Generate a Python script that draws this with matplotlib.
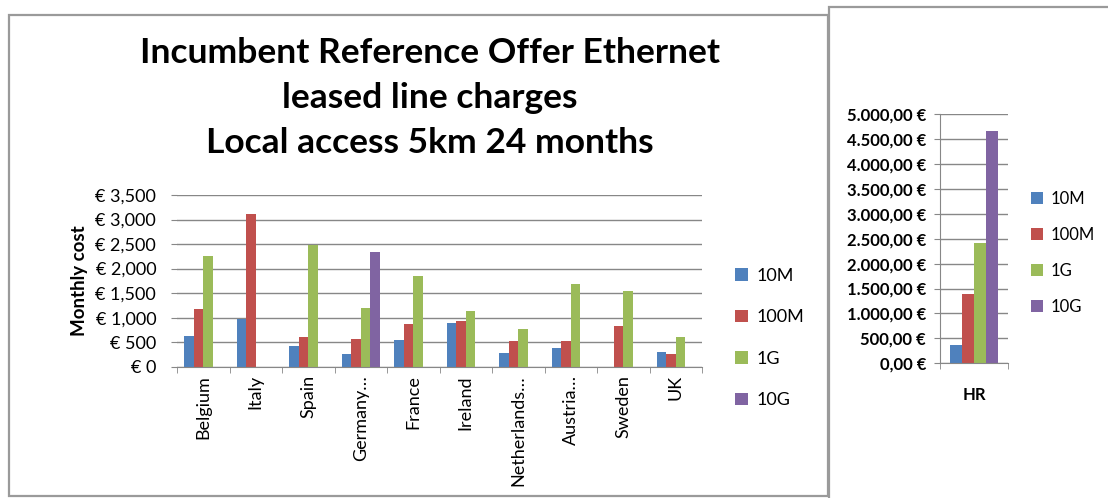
import numpy as np
import matplotlib
matplotlib.use('Agg')
import matplotlib.pyplot as plt
from matplotlib.patches import Rectangle
from matplotlib.ticker import FuncFormatter

plt.rcParams['font.family'] = ['Lato', 'DejaVu Sans']

# left chart data (EUR / month)
countries = ['Belgium', 'Italy', 'Spain', 'Germany\u2026', 'France', 'Ireland',
             'Netherlands\u2026', 'Austria\u2026', 'Sweden', 'UK']
v10m = [620, 965, 430, 265, 550, 895, 280, 385, np.nan, 300]
v100m = [1175, 3115, 600, 555, 870, 935, 530, 530, 835, 265]
v1g = [2265, np.nan, 2485, 1195, 1855, 1130, 770, 1680, 1535, 600]
v10g = [np.nan, np.nan, np.nan, 2345, np.nan, np.nan, np.nan, np.nan, np.nan, np.nan]

# right chart data (HR)
hr_cat = ['HR']
hr_10m = [365]
hr_100m = [1390]
hr_1g = [2420]
hr_10g = [4660]

series = ['10M', '100M', '1G', '10G']
colors = ['#4F81BD', '#C0504D', '#9BBB59', '#8064A2']
grid_c = '#878787'

W, H = 1108, 498
fig = plt.figure(figsize=(W / 100, H / 100), dpi=100)


def px(x0, y0, x1, y1):
    # pixel box (top-left origin) -> figure fraction rect
    return [x0 / W, 1 - y1 / H, (x1 - x0) / W, (y1 - y0) / H]


# panel borders
fig.patches.append(Rectangle((9 / W, 1 - 496 / H), (828 - 9) / W, (496 - 15) / H,
                             transform=fig.transFigure, fill=False,
                             edgecolor='#9a9a9a', lw=1.6))
fig.patches.append(Rectangle((828.5 / W, 1 - 520 / H), 400 / W, (520 - 7) / H,
                             transform=fig.transFigure, fill=False,
                             edgecolor='#9a9a9a', lw=1.6, clip_on=False))


def style_axes(ax, ymax, step, fmt, yfs, bold, pad):
    ax.set_ylim(0, ymax)
    ax.set_yticks(np.arange(0, ymax + 1, step))
    ax.yaxis.set_major_formatter(FuncFormatter(fmt))
    ax.grid(axis='y', color=grid_c, lw=1)
    ax.set_axisbelow(True)
    for s in ['top', 'right']:
        ax.spines[s].set_visible(False)
    ax.spines['bottom'].set_color(grid_c)
    ax.spines['left'].set_color(grid_c)
    ax.tick_params(axis='y', length=4, color=grid_c, labelsize=yfs, pad=pad)
    for lab in ax.get_yticklabels():
        lab.set_fontweight('bold' if bold else 'normal')


# ---- left chart
ax = fig.add_axes(px(177, 195, 702, 366.7))
x = np.arange(len(countries))
bw = 0.181
for i, vals in enumerate([v10m, v100m, v1g, v10g]):
    ax.bar(x + (i - 1.5) * bw, vals, bw, color=colors[i], label=series[i])
ax.set_xlim(-0.5, len(countries) - 0.5)
style_axes(ax, 3500, 500, lambda v, p: '\u20ac {:,.0f}'.format(v), 13, False, 11)
ax.spines['left'].set_visible(False)
ax.set_xticks(x)
ax.set_xticklabels(countries, rotation=90, fontsize=13)
ax.tick_params(axis='x', length=0, pad=6)
ax.set_xticks(np.arange(-0.5, len(countries)), minor=True)
ax.tick_params(axis='x', which='minor', length=4, color=grid_c)
ax.set_ylabel('Monthly cost', fontsize=13.5, fontweight='bold', labelpad=5)
ax.legend(loc='center left', bbox_to_anchor=(719 / W, 1 - 338 / H),
          bbox_transform=fig.transFigure, frameon=False, fontsize=13,
          handlelength=0.7, handleheight=0.7, handletextpad=0.5,
          labelspacing=1.42)

fig.text(430 / W, 1 - 98 / H,
         'Incumbent Reference Offer Ethernet\nleased line charges\nLocal access 5km 24 months',
         ha='center', va='center', fontsize=25.5, fontweight='bold',
         linespacing=1.5)

# ---- right chart
ax2 = fig.add_axes(px(940, 114, 1008, 363.3))
bw2 = 0.18
for i, vals in enumerate([hr_10m, hr_100m, hr_1g, hr_10g]):
    ax2.bar(np.arange(1) + (i - 1.5) * bw2, vals, bw2, color=colors[i],
            label=series[i])
ax2.set_xlim(-0.5, 0.5)


def de_eur(v, p):
    s = '{:,.2f}'.format(v).replace(',', 'X').replace('.', ',').replace('X', '.')
    return s + ' \u20ac'


style_axes(ax2, 5000, 500, de_eur, 12, True, 6)
ax2.set_xticks([0])
ax2.set_xticklabels(hr_cat, fontsize=12, fontweight='bold')
ax2.tick_params(axis='x', length=0, pad=17)
ax2.set_xticks([-0.5, 0.5], minor=True)
ax2.tick_params(axis='x', which='minor', length=4, color=grid_c)
ax2.legend(loc='center left', bbox_to_anchor=(1016 / W, 1 - 253 / H),
           bbox_transform=fig.transFigure, frameon=False, fontsize=12,
           handlelength=0.7, handleheight=0.7, handletextpad=0.5,
           labelspacing=1.2)

fig.savefig('out.png', dpi=100)
